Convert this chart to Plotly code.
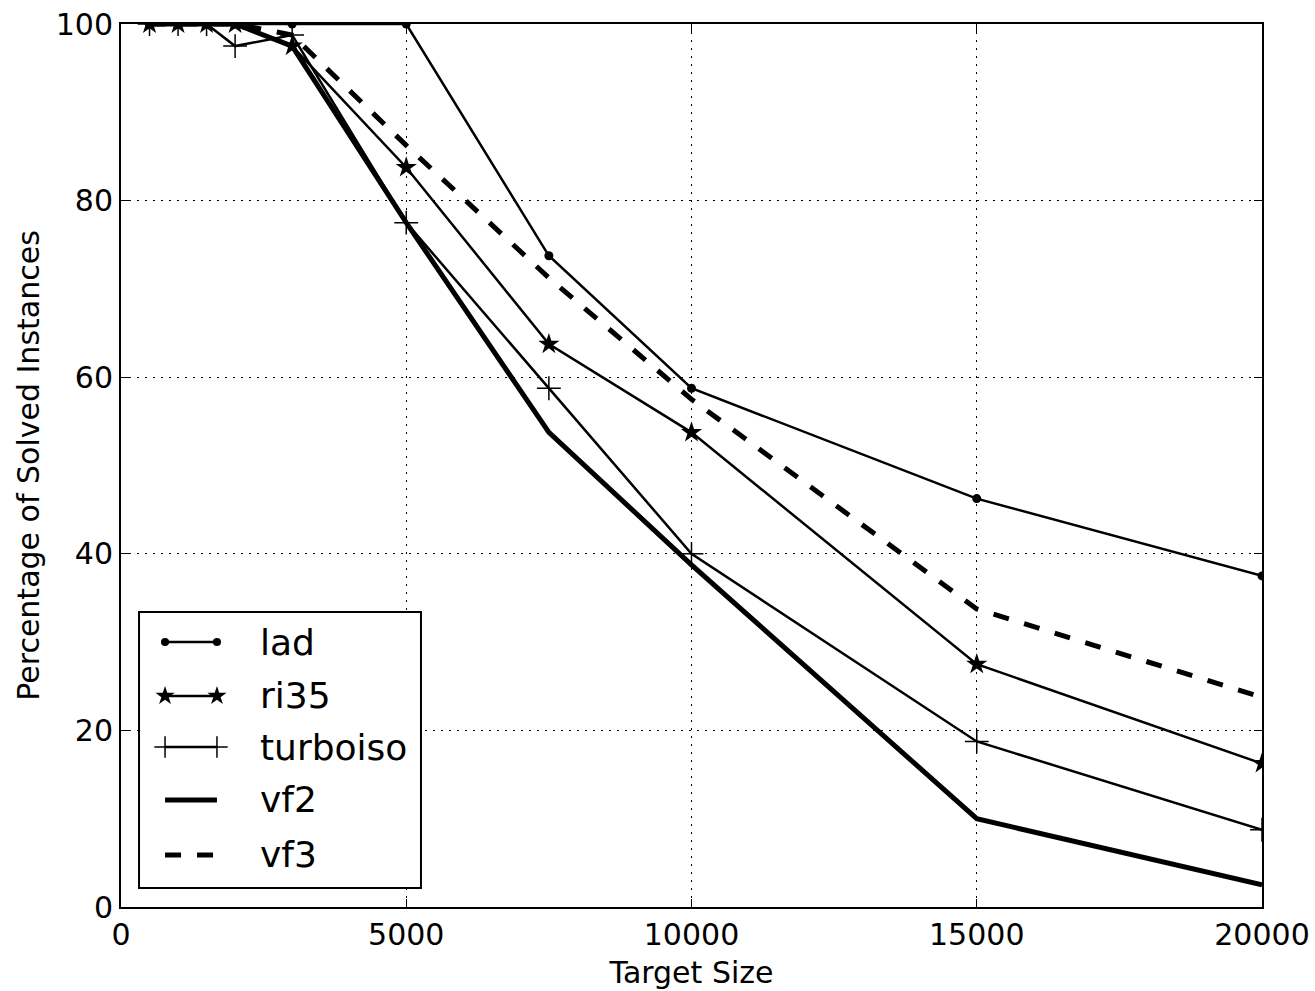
import plotly.graph_objects as go

# Target sizes and percentage of solved instances per algorithm
target_size = [500, 1000, 1500, 2000, 3000, 5000, 7500, 10000, 15000, 20000]
lad = [100, 100, 100, 100, 100, 100, 73.75, 58.75, 46.25, 37.5]
ri35 = [100, 100, 100, 100, 97.5, 83.75, 63.75, 53.75, 27.5, 16.25]
turboiso = [100, 100, 100, 97.5, 98.75, 77.5, 58.75, 40, 18.75, 8.75]
vf2 = [100, 100, 100, 100, 97.5, 77.5, 53.75, 38.75, 10, 2.5]
vf3 = [100, 100, 100, 100, 98.75, 86.25, 71.25, 57.5, 33.75, 23.75]

x_ticks = [0, 5000, 10000, 15000, 20000]
y_ticks = [0, 20, 40, 60, 80, 100]
X_MAX, Y_MAX = 20000, 100

FONT = "DejaVu Sans"
THIN = 2.5


def style(name, legend=False):
    """Line/marker style per algorithm; legend samples use slightly smaller markers."""
    k = 0.9 if legend else 1.0
    if name == "lad":
        return dict(line=dict(color="black", width=THIN), mode="lines+markers",
                    marker=dict(symbol="circle", size=9 * k, color="black"))
    if name == "ri35":
        return dict(line=dict(color="black", width=THIN), mode="lines+markers",
                    marker=dict(symbol="star", size=16 * k, color="black"))
    if name == "turboiso":
        return dict(line=dict(color="black", width=THIN), mode="lines+markers",
                    marker=dict(symbol="cross-thin", size=17 * k, color="black",
                                line=dict(color="black", width=1.5)))
    if name == "vf2":
        return dict(line=dict(color="black", width=5), mode="lines")
    return dict(line=dict(color="black", width=5, dash="16px,16px"), mode="lines")


series = [("lad", lad), ("ri35", ri35), ("turboiso", turboiso), ("vf2", vf2), ("vf3", vf3)]

fig = go.Figure()
for name, vals in series:
    fig.add_trace(go.Scatter(x=target_size, y=vals, name=name, showlegend=False,
                             cliponaxis=True, **style(name)))

# Hand-drawn legend on an overlay axis spanning the plot area (0..1 both ways)
leg_x0, leg_x1 = 0.0386, 0.0841
leg_rows = [0.3001, 0.2390, 0.1812, 0.1212, 0.0589]
for (name, _), yrow in zip(series, leg_rows):
    fig.add_trace(go.Scatter(x=[leg_x0, leg_x1], y=[yrow, yrow], xaxis="x2", yaxis="y2",
                             showlegend=False, hoverinfo="skip", cliponaxis=False,
                             **style(name, legend=True)))
    fig.add_annotation(x=0.1201, y=yrow, xref="paper", yref="paper", text=name,
                       showarrow=False, xanchor="left", yanchor="middle",
                       font=dict(family=FONT, size=36, color="black"))

# Legend frame: white box between the grid and the traces
box = dict(x0=0.0158, x1=0.2629, y0=0.0215, y1=0.3341)
fig.add_shape(type="rect", xref="x", yref="y",
              x0=box["x0"] * X_MAX, x1=box["x1"] * X_MAX,
              y0=box["y0"] * Y_MAX, y1=box["y1"] * Y_MAX,
              fillcolor="white", line=dict(color="black", width=2), layer="between")

axis_common = dict(
    showline=True, linecolor="black", linewidth=2, mirror="ticks",
    ticks="inside", ticklen=8, tickwidth=1, tickcolor="black",
    showgrid=True, gridcolor="black", gridwidth=1, griddash="2px,6px",
    zeroline=False, automargin=False,
    tickfont=dict(family=FONT, size=30, color="black"),
)

fig.update_layout(
    width=1315, height=991,
    margin=dict(l=121, r=53, t=24, b=84),
    paper_bgcolor="white", plot_bgcolor="white",
    font=dict(family=FONT, color="black"),
    xaxis=dict(range=[0, X_MAX], tickvals=x_ticks, ticktext=[str(v) for v in x_ticks],
               title=dict(text="Target Size", font=dict(family=FONT, size=30), standoff=11),
               **axis_common),
    yaxis=dict(range=[0, Y_MAX], tickvals=y_ticks, ticktext=[str(v) for v in y_ticks],
               title=dict(text="Percentage of Solved Instances",
                          font=dict(family=FONT, size=30), standoff=7),
               **axis_common),
    xaxis2=dict(overlaying="x", range=[0, 1], visible=False, fixedrange=True),
    yaxis2=dict(overlaying="y", range=[0, 1], visible=False, fixedrange=True),
    showlegend=False,
)

fig.write_html("out.html", config={"displayModeBar": False})
